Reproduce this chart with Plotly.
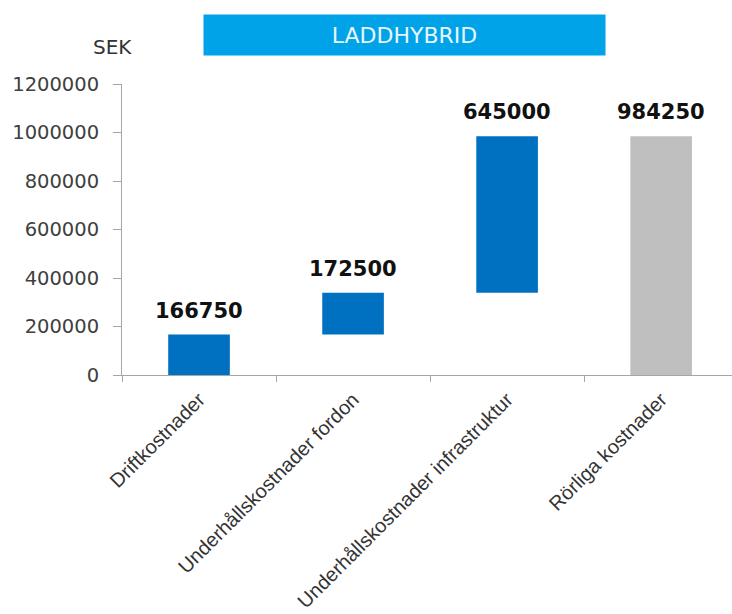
import plotly.graph_objects as go

# Cost components (SEK) for the plug-in hybrid
categories = [
    "Driftkostnader",
    "Underhållskostnader fordon",
    "Underhållskostnader infrastruktur",
    "Rörliga kostnader",
]
values = [166750, 172500, 645000, 984250]
measures = ["relative", "relative", "relative", "total"]
y_ticks = [0, 200000, 400000, 600000, 800000, 1000000, 1200000]

BLUE = "#0070C0"
GREY = "#BFBFBF"

fig = go.Figure()
fig.add_trace(go.Waterfall(
    x=categories,
    y=values,
    measure=measures,
    width=0.4,
    connector=dict(visible=False),
    increasing=dict(marker=dict(color=BLUE)),
    decreasing=dict(marker=dict(color=BLUE)),
    totals=dict(marker=dict(color=GREY)),
    hoverinfo="x+y",
))

# value labels above each bar's upper end
running = 0
for cat, val, m in zip(categories, values, measures):
    top = val if m == "total" else running + val
    if m != "total":
        running += val
    fig.add_annotation(
        x=cat, y=top, text=f"<b>{val}</b>", showarrow=False,
        yanchor="bottom", yshift=10,
        font=dict(family="DejaVu Sans", size=21, color="#111111"),
    )

# heading banner
fig.add_annotation(
    xref="paper", yref="paper", x=0.463, y=1.168,
    xanchor="center", yanchor="middle",
    text="LADDHYBRID", showarrow=False,
    width=401, height=40, bgcolor="#00A2E8", borderpad=0,
    font=dict(family="DejaVu Sans", size=22, color="#E6F6FF"),
)

# unit label
fig.add_annotation(
    xref="paper", yref="paper", x=-0.0148, y=1.127,
    xanchor="center", yanchor="middle",
    text="SEK", showarrow=False,
    font=dict(family="DejaVu Sans", size=20, color="#333333"),
)

fig.update_layout(
    width=732, height=614,
    margin=dict(l=122, r=0, t=84, b=239),
    paper_bgcolor="white", plot_bgcolor="white",
    showlegend=False,
)
fig.update_xaxes(
    range=[-0.5, 3.46],
    showline=True, linecolor="#A6A6A6", linewidth=1,
    ticks="outside", tickson="boundaries", ticklen=6, tickcolor="#A6A6A6",
    tickangle=-45, ticklabelstandoff=4,
    tickfont=dict(family="Liberation Sans", size=20, color="#333333"),
    showgrid=False, zeroline=False, automargin=False,
)
fig.update_yaxes(
    range=[0, 1200000], tickvals=y_ticks, ticktext=[str(v) for v in y_ticks],
    showline=True, linecolor="#A6A6A6", linewidth=1,
    ticks="outside", ticklen=8, tickcolor="#A6A6A6", ticklabelstandoff=10,
    tickfont=dict(family="DejaVu Sans", size=19.5, color="#404040"),
    showgrid=False, zeroline=False, automargin=False,
)

fig.write_html("out.html")
